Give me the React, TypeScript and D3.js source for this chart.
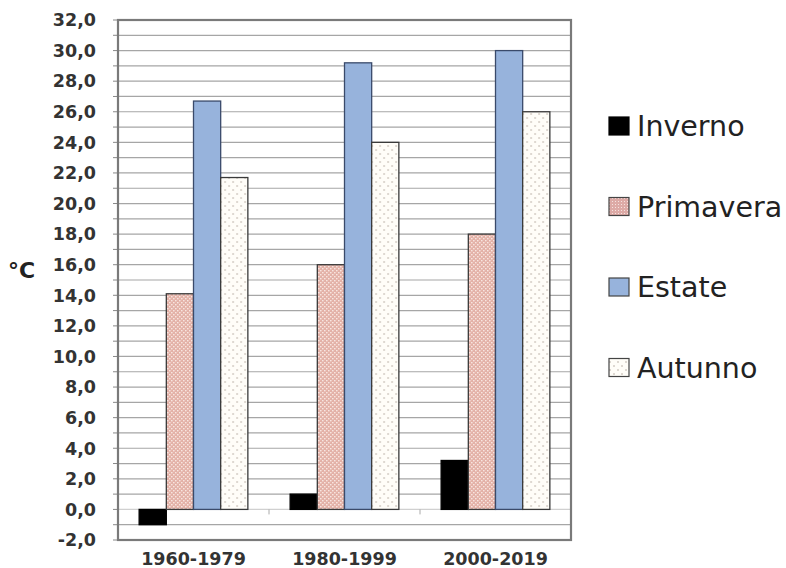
import React from "react";
import * as d3 from "d3";

const categories = ["1960-1979", "1980-1999", "2000-2019"];
const seriesNames = ["Inverno", "Primavera", "Estate", "Autunno"];
const inverno = [-1.0, 1.0, 3.2];
const primavera = [14.1, 16.0, 18.0];
const estate = [26.7, 29.2, 30.0];
const autunno = [21.7, 24.0, 26.0];
const yTicks = [-2, 0, 2, 4, 6, 8, 10, 12, 14, 16, 18, 20, 22, 24, 26, 28, 30, 32];
const yUnit = "°C";

const seriesValues = [inverno, primavera, estate, autunno];
const fills = ["#000000", "url(#pPrim)", "#97b3dc", "url(#pAut)"];
const strokes = ["#000000", "#3a3a3a", "#3a4a6a", "#3a3a3a"];
const legendFills = ["#000000", "url(#pPrimL)", "#97b3dc", "url(#pAut)"];

export default function App() {
  const W = 786, H = 568;
  const left = 118, right = 571, top = 20, bottom = 540;
  const y = d3.scaleLinear().domain([-2, 32]).range([bottom, top]);
  const x0 = d3.scaleBand<string>().domain(categories).range([left, right]).paddingInner(0.28).paddingOuter(0.14);
  const x1 = d3.scaleBand<string>().domain(seriesNames).range([0, x0.bandwidth()]);
  const minor = d3.range(-2, 33, 1);
  const font = "'DejaVu Sans', Verdana, sans-serif";
  const fmt = (v: number) => v.toFixed(1).replace(".", ",");
  const catTicks = [1, 2].map((i) => left + (i * (right - left)) / 3);

  return (
    <svg width={W} height={H} style={{ position: "absolute", left: 0, top: 0, background: "#fff" }}>
      <defs>
        <pattern id="pPrim" width="4" height="4" patternUnits="userSpaceOnUse">
          <rect width="4" height="4" fill="#e3b0a6" />
          <rect x="0" y="0" width="1.4" height="1.4" fill="#fbeee9" />
          <rect x="2" y="2" width="1.4" height="1.4" fill="#fbeee9" />
        </pattern>
        <pattern id="pPrimL" width="3" height="3" patternUnits="userSpaceOnUse">
          <rect width="3" height="3" fill="#ddaaa6" />
          <rect x="0" y="0" width="1" height="1" fill="#f5e2e0" />
        </pattern>
        <pattern id="pAut" width="8" height="8" patternUnits="userSpaceOnUse">
          <rect width="8" height="8" fill="#fffdf8" />
          <circle cx="2" cy="2" r="0.8" fill="#b5aaa0" />
          <circle cx="6" cy="6" r="0.8" fill="#b5aaa0" />
        </pattern>
      </defs>

      {/* gridlines */}
      {minor.map((v) => (
        <line key={"g" + v} x1={left} x2={right} y1={y(v)} y2={y(v)} stroke={v === 0 ? "#d0d0d0" : "#a6a6a6"} strokeWidth={1.2} />
      ))}
      {/* minor ticks */}
      {minor.map((v) => (
        <line key={"t" + v} x1={left - 5} x2={left} y1={y(v)} y2={y(v)} stroke="#888" strokeWidth={1} />
      ))}
      {/* category ticks on zero line */}
      {catTicks.map((cx, i) => (
        <line key={"c" + i} x1={cx} x2={cx} y1={y(0)} y2={y(0) + 5} stroke="#aaa" strokeWidth={1} />
      ))}

      {/* bars */}
      {categories.map((c, ci) => (
        <g key={c} transform={`translate(${x0(c)},0)`}>
          {seriesNames.map((s, si) => {
            const v = seriesValues[si][ci];
            const y0 = y(0);
            const yv = y(v);
            return (
              <rect
                key={s}
                x={x1(s)}
                width={x1.bandwidth()}
                y={Math.min(y0, yv)}
                height={Math.abs(y0 - yv)}
                fill={fills[si]}
                stroke={strokes[si]}
                strokeWidth={1.3}
              />
            );
          })}
        </g>
      ))}

      {/* frame */}
      <rect x={left} y={top} width={right - left} height={bottom - top} fill="none" stroke="#7a7a7a" strokeWidth={2.2} />

      {/* y labels */}
      {yTicks.map((v) => (
        <text key={"l" + v} x={96} y={y(v)} dy="0.36em" textAnchor="end" fontFamily={font} fontWeight="bold" fontSize={17.5} fill="#333">
          {fmt(v)}
        </text>
      ))}
      <text x={8} y={270} dy="0.36em" fontFamily={font} fontWeight="600" fontSize={22} fill="#222">
        {yUnit}
      </text>

      {/* x labels */}
      {categories.map((c) => (
        <text key={"x" + c} x={(x0(c) as number) + x0.bandwidth() / 2} y={565} textAnchor="middle" fontFamily={font} fontWeight="bold" fontSize={17.5} fill="#333">
          {c}
        </text>
      ))}

      {/* legend */}
      {seriesNames.map((s, i) => {
        const cy = 126 + i * 80.5;
        return (
          <g key={"lg" + s}>
            <rect x={609} y={cy - 9} width={20} height={18} fill={legendFills[i]} stroke={i === 0 ? "#000" : "#444"} strokeWidth={1.2} />
            <text x={637} y={cy} dy="0.36em" fontFamily={font} fontSize={28.5} fill="#222">
              {s}
            </text>
          </g>
        );
      })}
    </svg>
  );
}
